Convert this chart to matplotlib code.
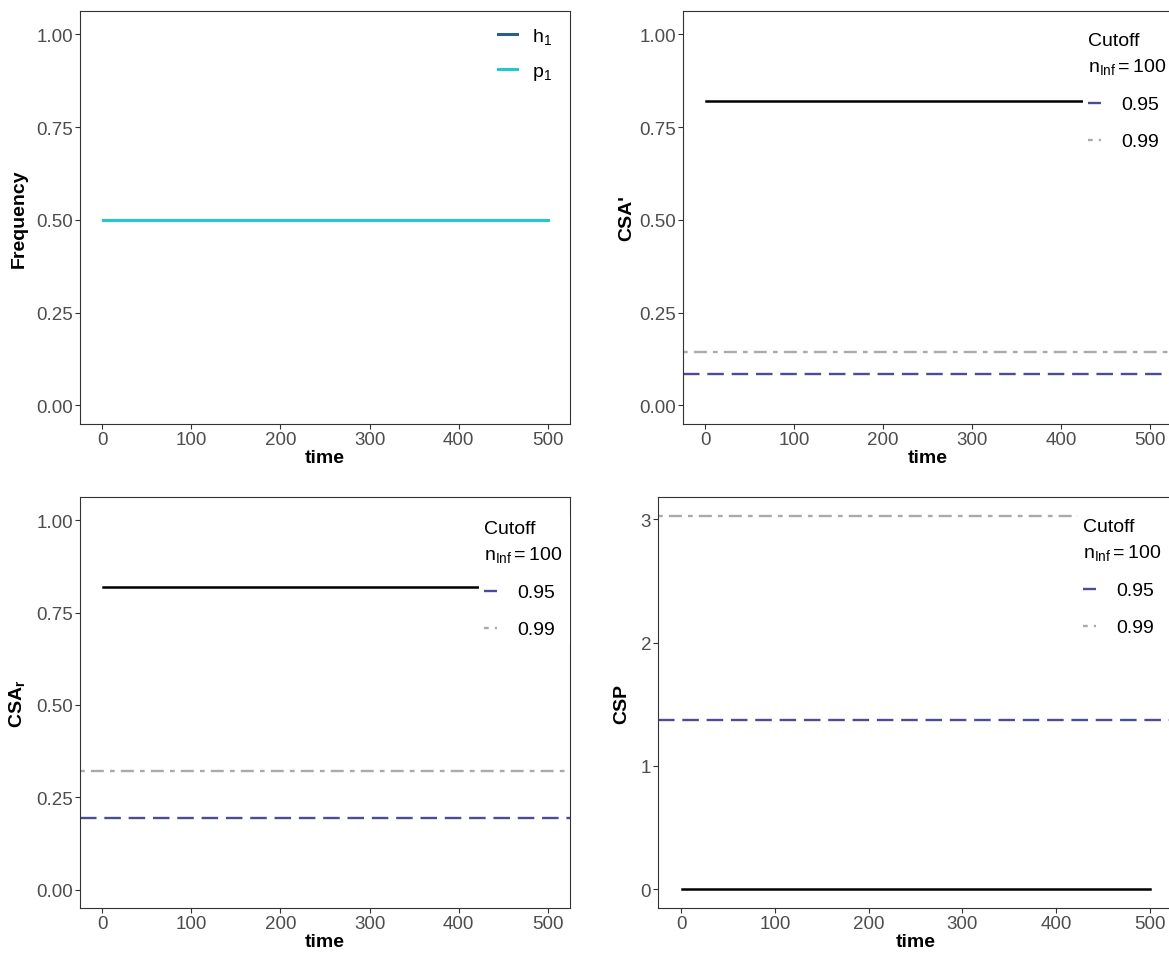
import numpy as np
import matplotlib
matplotlib.use("Agg")
import matplotlib.pyplot as plt
from matplotlib.lines import Line2D

plt.rcParams['font.family'] = ['Liberation Sans', 'DejaVu Sans']
plt.rcParams['mathtext.fontset'] = 'custom'
plt.rcParams['mathtext.rm'] = 'Liberation Sans'
plt.rcParams['mathtext.it'] = 'Liberation Sans:italic'
plt.rcParams['mathtext.bf'] = 'Liberation Sans:bold'

# data
time = np.arange(1, 501)
x_ticks = [0, 100, 200, 300, 400, 500]

freq_h1 = 0.5
freq_p1 = 0.5

csa_prime = 0.82
csa_prime_cut = [0.085, 0.143]   # 0.95, 0.99

csa_r = 0.82
csa_r_cut = [0.195, 0.32]

csp = 0.0
csp_cut = [1.37, 3.03]

cutoff_labels = ["0.95", "0.99"]

col_h1 = "#2D5D8C"
col_p1 = "#22C8CC"
col_cut = ["#4B4B96", "#AAAAAA"]
dash_cut = [(7, 3.3), (2, 2.6, 5.5, 2.6)]

W, H = 1169, 954
fig = plt.figure(figsize=(W / 100, H / 100), dpi=100)


def make_ax(l, r, t, b):
    return fig.add_axes([l / W, 1 - b / H, (r - l) / W, (b - t) / H])


def style(ax, ylim, yticks, yfmt, ylabel, lab_x):
    ax.set_xlim(-24.95, 524.95)
    ax.set_ylim(*ylim)
    ax.set_xticks(x_ticks)
    ax.set_yticks(yticks)
    ax.set_yticklabels([yfmt.format(v) for v in yticks])
    for s in ax.spines.values():
        s.set_color("#333333")
        s.set_linewidth(0.8)
    ax.tick_params(length=3.5, width=0.8, color="#333333", labelsize=13.5,
                   labelcolor="#4D4D4D", pad=1.5)
    ax.set_xlabel("time", fontsize=14, fontweight="bold", labelpad=1)
    ax.set_ylabel(ylabel, fontsize=14, fontweight="bold")
    ax.yaxis.set_label_coords(lab_x, 0.5)


def cutoff_legend(ax, x, y, right=1180):
    handles = [Line2D([], [], color=col_cut[i], lw=1.7, dashes=dash_cut[i])
               for i in range(2)]
    leg = ax.legend(handles, cutoff_labels, title="Cutoff\n$\\mathregular{n_{Inf}=100}$",
                    loc="upper left", bbox_to_anchor=(x / W, 1 - y / H, (right - x) / W, 0),
                    bbox_transform=fig.transFigure, mode="expand", frameon=True,
                    fancybox=False, framealpha=1, edgecolor="none", facecolor="white",
                    fontsize=14, title_fontsize=14, alignment="left",
                    handlelength=0.7, handletextpad=1.0, labelspacing=1.0,
                    borderpad=0.25, borderaxespad=0)
    leg.get_title().set_linespacing(1.5)
    return leg


yt01 = [0, 0.25, 0.5, 0.75, 1.0]

# top-left: frequency
ax1 = make_ax(80, 570, 12, 425)
ax1.plot(time, np.full(time.size, freq_h1), color=col_h1, lw=2.2, label="$\\mathregular{h_1}$")
ax1.plot(time, np.full(time.size, freq_p1), color=col_p1, lw=2.2, label="$\\mathregular{p_1}$")
style(ax1, (-0.05, 1.063), yt01, "{:.2f}", "Frequency", -0.106)
ax1.legend(loc="upper left", bbox_to_anchor=(494 / W, 1 - 23 / H),
           bbox_transform=fig.transFigure, frameon=False, fontsize=14,
           handlelength=1.0, handletextpad=0.75, labelspacing=0.85,
           borderpad=0.2, borderaxespad=0)

# top-right: CSA'
ax2 = make_ax(683, 1172, 12, 425)
ax2.plot(time, np.full(time.size, csa_prime), color="black", lw=1.8)
for i, v in enumerate(csa_prime_cut):
    ax2.axhline(v, color=col_cut[i], lw=1.7, dashes=dash_cut[i])
style(ax2, (-0.05, 1.063), yt01, "{:.2f}", "CSA'", -0.098)
cutoff_legend(ax2, 1083, 28)

# bottom-left: CSA_r
ax3 = make_ax(80, 570, 498, 909)
ax3.plot(time, np.full(time.size, csa_r), color="black", lw=1.8)
for i, v in enumerate(csa_r_cut):
    ax3.axhline(v, color=col_cut[i], lw=1.7, dashes=dash_cut[i])
style(ax3, (-0.05, 1.063), yt01, "{:.2f}", "$\\mathbf{CSA_r}$", -0.108)
cutoff_legend(ax3, 479, 516, right=570)

# bottom-right: CSP
ax4 = make_ax(658, 1173, 498, 909)
ax4.plot(time, np.full(time.size, csp), color="black", lw=1.8)
for i, v in enumerate(csp_cut):
    ax4.axhline(v, color=col_cut[i], lw=1.7, dashes=dash_cut[i])
style(ax4, (-0.152, 3.18), [0, 1, 2, 3], "{:.0f}", "CSP", -0.054)
cutoff_legend(ax4, 1078, 514)

fig.savefig("out.png", dpi=100)
